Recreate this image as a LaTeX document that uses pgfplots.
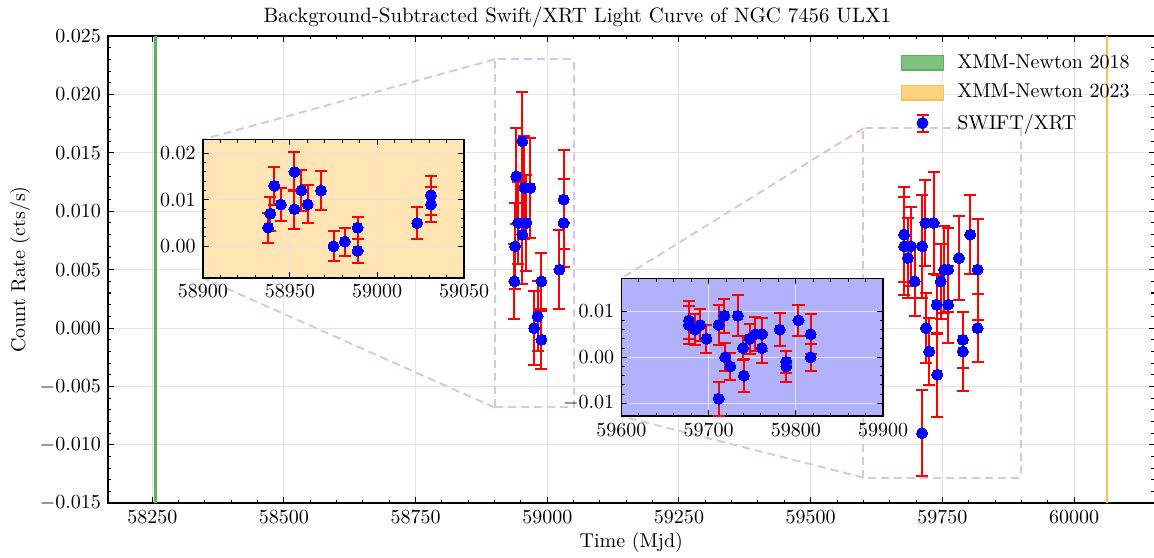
\documentclass[border=0pt]{standalone}
\usepackage{pgfplots}
\usepackage{pgfplotstable}
\pgfplotsset{compat=1.18}
\definecolor{gridc}{RGB}{228,228,228}
\definecolor{insA}{RGB}{255,228,180}
\definecolor{insB}{RGB}{178,178,252}
\definecolor{rectc}{RGB}{222,196,228}
\definecolor{xmmA}{RGB}{90,178,90}
\definecolor{xmmAfill}{RGB}{128,192,128}
\definecolor{xmmB}{RGB}{255,190,80}
\definecolor{xmmBfill}{RGB}{255,210,128}

\pgfplotstableread{
x y ey
58937.5 0.004 0.0032
58938.7 0.007 0.0037
58941.0 0.013 0.0041
58944.8 0.009 0.0035
58952.6 0.016 0.0042
58952.6 0.008 0.0042
58956.6 0.012 0.0044
58960.2 0.009 0.0041
58967.8 0.012 0.0043
58975.0 0.000 0.0032
58981.5 0.001 0.0030
58988.8 0.004 0.0024
58988.8 -0.001 0.0025
59023.0 0.005 0.0034
59030.9 0.011 0.0042
59030.9 0.009 0.0038
}\clusterA

\pgfplotstableread{
x y ey
59677.5 0.008 0.0041
59677.5 0.007 0.0042
59684.5 0.006 0.0034
59690.5 0.007 0.0034
59697.5 0.004 0.0030
59711.5 0.007 0.0044
59711.5 -0.009 0.0037
59718.0 0.009 0.0037
59719.0 0.000 0.0030
59725.0 -0.002 0.0029
59733.5 0.009 0.0044
59739.5 0.002 0.0025
59740.5 -0.004 0.0036
59747.0 0.004 0.0032
59753.5 0.005 0.0037
59761.0 0.005 0.0036
59761.0 0.002 0.0033
59781.5 0.006 0.0036
59789.0 -0.001 0.0024
59789.0 -0.002 0.0034
59803.0 0.008 0.0034
59817.0 0.005 0.0043
59817.0 0.000 0.0029
}\clusterB

\pgfplotsset{
  common/.style={
    scale only axis,
    tick align=inside,
    major tick length=3pt,
    minor tick length=1.6pt,
    every tick/.style={black, line width=0.5pt},
    axis line style={line width=0.8pt},
    grid=major,
    major grid style={gridc, line width=0.5pt},
    scaled x ticks=false, scaled y ticks=false,
    xticklabel style={/pgf/number format/1000 sep={}},
    tick label style={font=\fontsize{10}{12}\selectfont},
  },
  myerr/.style={
    only marks, mark=*, mark size=2.75pt,
    mark options={draw=blue, fill=blue, line width=0pt},
    error bars/y dir=both, error bars/y explicit,
    error bars/error bar style={red, line width=1pt},
    error bars/error mark options={rotate=90, red, mark size=3pt, line width=1pt},
  },
}

\begin{document}
\begin{tikzpicture}
\begin{axis}[common,
  name=main, at={(0pt,0pt)}, anchor=south west,
  width=523pt, height=233.5pt,
  xmin=58166, xmax=60153, ymin=-0.015, ymax=0.025,
  xtick={58250,58500,58750,59000,59250,59500,59750,60000},
  minor x tick num=4,
  ytick={-0.015,-0.010,-0.005,0,0.005,0.010,0.015,0.020,0.025},
  minor y tick num=4,
  yticklabel style={/pgf/number format/.cd, fixed, fixed zerofill, precision=3},
  xlabel={Time (Mjd)}, ylabel={Count Rate (cts/s)},
  xlabel style={yshift=2pt},
  ylabel style={yshift=-2pt},
  legend style={at={(0.757,0.968)}, anchor=north west, draw=none, fill=none,
    inner sep=0pt, row sep=3.6pt, column sep=5pt, font=\fontsize{10}{12}\selectfont,
    nodes={inner sep=1.5pt}},
  legend cell align=left,
]
\addlegendimage{legend image code/.code={\draw[draw=xmmA, fill=xmmAfill, line width=0.8pt] (0pt,-3.6pt) rectangle (21pt,3.6pt);}}
\addlegendentry{XMM-Newton 2018}
\addlegendimage{legend image code/.code={\draw[draw=xmmB, fill=xmmBfill, line width=0.8pt] (0pt,-3.6pt) rectangle (21pt,3.6pt);}}
\addlegendentry{XMM-Newton 2023}
\addlegendimage{legend image code/.code={
  \draw[red, line width=1pt] (10.5pt,-4.2pt) -- (10.5pt,4.2pt);
  \draw[red, line width=1pt] (7.5pt,-4.2pt) -- (13.5pt,-4.2pt);
  \draw[red, line width=1pt] (7.5pt,4.2pt) -- (13.5pt,4.2pt);
  \fill[blue] (10.5pt,0pt) circle (2.75pt);}}
\addlegendentry{SWIFT/XRT}

\addplot[xmmA, line width=1.1pt, forget plot] coordinates {(58256,-0.015) (58256,0.025)};
\addplot[xmmB, line width=1.1pt, forget plot] coordinates {(60063,-0.015) (60063,0.025)};

\addplot[forget plot, myerr] table[x=x, y=y, y error=ey] {\clusterA};
\addplot[forget plot, myerr] table[x=x, y=y, y error=ey] {\clusterB};

\draw[rectc, line width=1pt, dash pattern=on 4pt off 2.5pt] (axis cs:58900,-0.0068) rectangle (axis cs:59050,0.023);
\draw[rectc, line width=1pt, dash pattern=on 4pt off 2.5pt] (axis cs:59600,-0.0128) rectangle (axis cs:59900,0.0171);
\coordinate (r1tl) at (axis cs:58900,0.023);
\coordinate (r1bl) at (axis cs:58900,-0.0068);
\coordinate (r2tl) at (axis cs:59600,0.0171);
\coordinate (r2bl) at (axis cs:59600,-0.0128);
\end{axis}

\draw[rectc, line width=1pt, dash pattern=on 4pt off 2.5pt] (r1tl) -- (47.35pt,181.85pt);
\draw[rectc, line width=1pt, dash pattern=on 4pt off 2.5pt] (r1bl) -- (47.35pt,112.65pt);
\draw[rectc, line width=1pt, dash pattern=on 4pt off 2.5pt] (r2tl) -- (256.5pt,112.35pt);
\draw[rectc, line width=1pt, dash pattern=on 4pt off 2.5pt] (r2bl) -- (256.5pt,43.5pt);

\begin{axis}[common,
  name=ins1, at={(47.35pt,112.65pt)}, anchor=south west,
  width=130.65pt, height=69.2pt,
  axis background/.style={fill=insA},
  xmin=58900, xmax=59050, ymin=-0.0068, ymax=0.023,
  xtick={58900,58950,59000,59050}, minor x tick num=4,
  ytick={0,0.01,0.02}, minor y tick num=4,
  yticklabel style={/pgf/number format/.cd, fixed, fixed zerofill, precision=2},
]
\addplot[myerr] table[x=x, y=y, y error=ey] {\clusterA};
\end{axis}

\begin{axis}[common,
  name=ins2, at={(256.5pt,43.5pt)}, anchor=south west,
  width=130.85pt, height=68.85pt,
  axis background/.style={fill=insB},
  xmin=59600, xmax=59900, ymin=-0.0128, ymax=0.0171,
  xtick={59600,59700,59800,59900}, minor x tick num=4,
  ytick={-0.01,0,0.01}, minor y tick num=4,
  yticklabel style={/pgf/number format/.cd, fixed, fixed zerofill, precision=2},
]
\addplot[myerr] table[x=x, y=y, y error=ey] {\clusterB};
\end{axis}

\node[anchor=base, font=\fontsize{10.4}{12}\selectfont] at (234.5pt,240.5pt) {Background-Subtracted Swift/XRT Light Curve of NGC 7456 ULX1};

\pgfresetboundingbox
\useasboundingbox (-54pt,-27pt) rectangle (522.7pt,251.5pt);
\end{tikzpicture}
\end{document}
